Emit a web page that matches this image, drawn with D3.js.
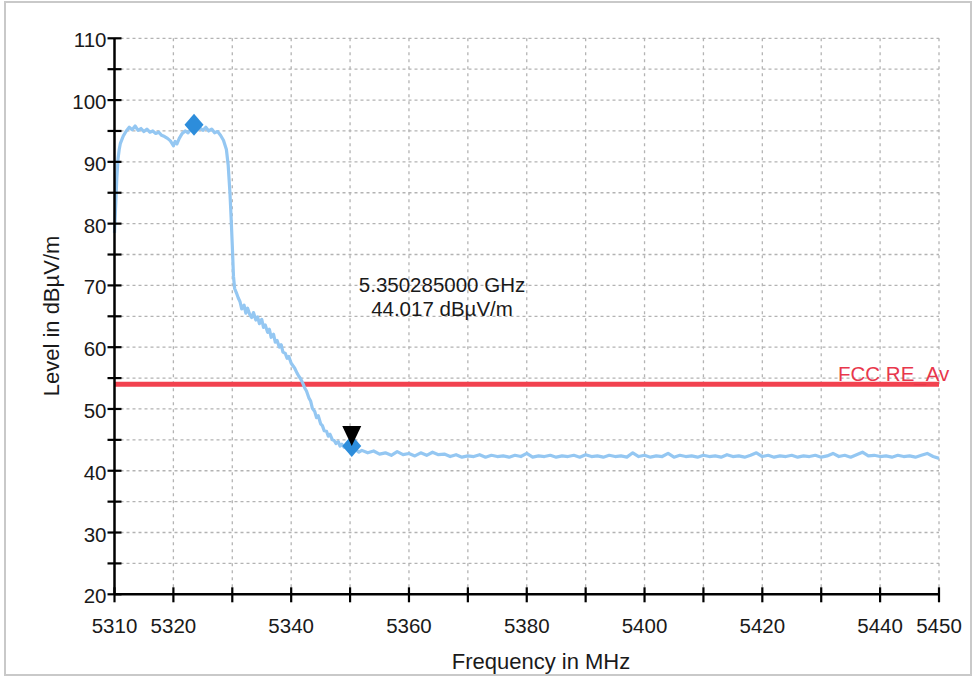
<!doctype html>
<html>
<head>
  <meta charset="utf-8">
  <title>Level vs frequency</title>
  <script src="https://d3js.org/d3.v7.min.js"></script>
  <style>
    body { margin: 0; background: #fff; }
    text { font-family: 'Liberation Sans', Arial, sans-serif; fill: #1a1a1a; }
    .tick-label { font-size: 20.5px; }
    .axis-title { font-size: 22px; }
  </style>
</head>
<body>
<svg id="chart" width="976" height="677"></svg>
<script>
  // x ticks every 10 MHz, only some are labelled
  const xTicks = [5310, 5320, 5330, 5340, 5350, 5360, 5370, 5380, 5390, 5400, 5410, 5420, 5430, 5440, 5450];
  const xTickLabels = [5310, 5320, 5340, 5360, 5380, 5400, 5420, 5440, 5450];
  const yTicks = [20, 25, 30, 35, 40, 45, 50, 55, 60, 65, 70, 75, 80, 85, 90, 95, 100, 105, 110];
  const yTickLabels = [20, 30, 40, 50, 60, 70, 80, 90, 100, 110];

  const limitName = "FCC RE_Av";
  const limitLevel = 54;

  // [MHz, dBµV/m]
  const trace = [
    [5310.0, 78.5], [5310.2, 83.0], [5310.4, 87.5], [5310.6, 90.5], [5310.8, 92.0], [5311.0, 93.0],
    [5311.5, 94.2], [5312.0, 95.0], [5312.5, 95.6], [5313.0, 95.2], [5313.5, 95.8], [5314.0, 95.1],
    [5314.5, 95.4], [5315.0, 94.9], [5315.5, 95.3], [5316.0, 94.8], [5316.5, 95.0], [5317.0, 94.6],
    [5317.5, 94.8], [5318.0, 94.3], [5318.5, 94.1], [5319.0, 93.8], [5319.5, 93.4], [5320.0, 92.6],
    [5320.3, 93.3], [5320.6, 92.9], [5321.0, 93.8], [5321.5, 94.6], [5322.0, 95.0], [5322.5, 94.7],
    [5323.0, 95.3], [5323.5, 95.6], [5324.0, 95.2], [5324.5, 95.5], [5325.0, 95.1], [5325.5, 95.6],
    [5326.0, 95.0], [5326.5, 95.3], [5327.0, 94.7], [5327.5, 94.9], [5328.0, 94.3], [5328.5, 93.5],
    [5329.0, 92.0], [5329.3, 89.5], [5329.6, 85.0], [5329.8, 81.0], [5330.0, 76.5], [5330.2, 71.5],
    [5330.4, 69.5], [5330.7, 68.8], [5331.0, 68.0], [5331.3, 67.4], [5331.6, 66.2], [5332.0, 66.8],
    [5332.3, 65.5], [5332.6, 66.3], [5333.0, 65.2], [5333.3, 64.8], [5333.6, 65.6], [5334.0, 64.4],
    [5334.3, 64.9], [5334.6, 63.8], [5335.0, 64.5], [5335.3, 63.2], [5335.6, 63.6], [5336.0, 62.4],
    [5336.3, 62.9], [5336.6, 61.6], [5337.0, 62.1], [5337.3, 60.8], [5337.6, 61.1], [5338.0, 60.0],
    [5338.3, 60.4], [5338.6, 59.2], [5339.0, 59.0], [5339.3, 58.2], [5339.6, 58.5], [5340.0, 57.4],
    [5340.3, 57.0], [5340.6, 56.6], [5341.0, 55.8], [5341.3, 55.3], [5341.6, 54.9], [5342.0, 54.1],
    [5342.3, 53.4], [5342.6, 52.9], [5343.0, 51.8], [5343.3, 51.3], [5343.6, 50.1], [5344.0, 49.6],
    [5344.3, 48.6], [5344.6, 48.9], [5345.0, 47.6], [5345.3, 47.3], [5345.6, 46.5], [5346.0, 46.4],
    [5346.3, 45.6], [5346.6, 45.9], [5347.0, 45.0], [5347.3, 44.9], [5347.6, 44.4], [5348.0, 44.7],
    [5348.3, 44.0], [5348.6, 44.3], [5349.0, 43.8], [5349.5, 44.1], [5350.0, 43.9], [5350.3, 44.0],
    [5350.6, 43.6], [5351.0, 43.4], [5351.5, 43.0], [5352.0, 43.3],
    [5353, 42.9], [5354, 43.2], [5355, 42.7], [5356, 42.9], [5357, 42.5], [5358, 43.1], [5359, 42.6],
    [5360, 42.8], [5361, 42.4], [5362, 42.9], [5363, 42.5], [5364, 43.0], [5365, 42.6], [5366, 42.7],
    [5367, 42.3], [5368, 42.6], [5369, 42.2], [5370, 42.4], [5371, 42.3], [5372, 42.6], [5373, 42.2],
    [5374, 42.5], [5375, 42.3], [5376, 42.4], [5377, 42.2], [5378, 42.5], [5379, 42.3], [5380, 42.8],
    [5381, 42.2], [5382, 42.4], [5383, 42.3], [5384, 42.5], [5385, 42.2], [5386, 42.4], [5387, 42.3],
    [5388, 42.5], [5389, 42.2], [5390, 42.6], [5391, 42.3], [5392, 42.4], [5393, 42.2], [5394, 42.5],
    [5395, 42.3], [5396, 42.4], [5397, 42.2], [5398, 42.9], [5399, 42.3], [5400, 42.5], [5401, 42.2],
    [5402, 42.4], [5403, 42.3], [5404, 42.8], [5405, 42.2], [5406, 42.5], [5407, 42.3], [5408, 42.4],
    [5409, 42.2], [5410, 42.5], [5411, 42.3], [5412, 42.4], [5413, 42.2], [5414, 42.6], [5415, 42.3],
    [5416, 42.4], [5417, 42.2], [5418, 42.5], [5419, 42.9], [5420, 42.3], [5421, 42.5], [5422, 42.2],
    [5423, 42.4], [5424, 42.3], [5425, 42.5], [5426, 42.2], [5427, 42.4], [5428, 42.3], [5429, 42.5],
    [5430, 42.2], [5431, 42.4], [5432, 42.8], [5433, 42.3], [5434, 42.5], [5435, 42.2], [5436, 42.6],
    [5437, 43.0], [5438, 42.4], [5439, 42.5], [5440, 42.3], [5441, 42.4], [5442, 42.2], [5443, 42.5],
    [5444, 42.3], [5445, 42.4], [5446, 42.2], [5447, 42.5], [5448, 42.8], [5449, 42.3], [5450, 42.0]
  ];

  // markers: peak and the band-edge marker with readout
  const peakMarker = [5323.5, 96.0];
  const edgeMarker = [5350.285, 44.017];
  const readout = ["5.350285000 GHz", "44.017 dBµV/m"];

  const svg = d3.select("#chart");

  var x = d3.scaleLinear().domain([5310, 5450]).range([114.5, 939]);
  var y = d3.scaleLinear().domain([20, 110]).range([594.3, 38.3]);

  // outer frame
  svg.append("rect")
    .attr("x", 5).attr("y", 2).attr("width", 966).attr("height", 673)
    .attr("fill", "none").attr("stroke", "#c9c9c9").attr("stroke-width", 2);

  // grid
  svg.append("g").selectAll("line")
    .data(yTicks.filter(d => d > 20))
    .enter().append("line")
    .attr("x1", x(5310)).attr("x2", x(5450))
    .attr("y1", d => y(d)).attr("y2", d => y(d))
    .attr("stroke", "#b3b3b3").attr("stroke-width", 1.3).attr("stroke-dasharray", "3,3");

  svg.append("g").selectAll("line")
    .data(xTicks.filter(d => d > 5310))
    .enter().append("line")
    .attr("x1", d => x(d)).attr("x2", d => x(d))
    .attr("y1", y(110)).attr("y2", y(20))
    .attr("stroke", "#b3b3b3").attr("stroke-width", 1.3).attr("stroke-dasharray", "3,4");

  // limit line
  svg.append("line")
    .attr("x1", x(5310)).attr("x2", x(5450))
    .attr("y1", y(limitLevel)).attr("y2", y(limitLevel))
    .attr("stroke", "#f2424f").attr("stroke-width", 5);

  svg.append("text")
    .attr("x", 838).attr("y", y(limitLevel) - 3)
    .style("font-size", "20.5px")
    .style("fill", "#e8374c")
    .text(limitName);

  // trace
  var line = d3.line().x(d => x(d[0])).y(d => y(d[1]));
  svg.append("path")
    .datum(trace)
    .attr("d", line)
    .attr("fill", "none")
    .attr("stroke", "#94c7f2")
    .attr("stroke-width", 3.2)
    .attr("stroke-linejoin", "round");

  // axes (ticks cross the axis line)
  var yAxis = svg.append("g");
  yAxis.append("line")
    .attr("x1", x(5310)).attr("x2", x(5310))
    .attr("y1", y(110)).attr("y2", y(20))
    .attr("stroke", "#000").attr("stroke-width", 2.5);
  yAxis.selectAll(".yt").data(yTicks).enter().append("line")
    .attr("x1", x(5310) - 7).attr("x2", x(5310) + 7)
    .attr("y1", d => y(d)).attr("y2", d => y(d))
    .attr("stroke", "#000").attr("stroke-width", 2.2);
  yAxis.selectAll("text").data(yTickLabels).enter().append("text")
    .attr("class", "tick-label")
    .attr("x", x(5310) - 8)
    .attr("y", d => y(d) + 9)
    .attr("text-anchor", "end")
    .text(d => d);

  var xAxis = svg.append("g");
  xAxis.append("line")
    .attr("x1", x(5310)).attr("x2", x(5450))
    .attr("y1", y(20)).attr("y2", y(20))
    .attr("stroke", "#000").attr("stroke-width", 2.5);
  xAxis.selectAll(".xt").data(xTicks).enter().append("line")
    .attr("x1", d => x(d)).attr("x2", d => x(d))
    .attr("y1", y(20) - 7).attr("y2", y(20) + 8)
    .attr("stroke", "#000").attr("stroke-width", 2.2);
  xAxis.selectAll("text").data(xTickLabels).enter().append("text")
    .attr("class", "tick-label")
    .attr("x", d => x(d))
    .attr("y", 633)
    .attr("text-anchor", "middle")
    .text(d => d);

  // axis titles
  svg.append("text")
    .attr("class", "axis-title")
    .attr("x", 541).attr("y", 669)
    .attr("text-anchor", "middle")
    .text("Frequency in MHz");

  svg.append("text")
    .attr("class", "axis-title")
    .attr("transform", "translate(59,316) rotate(-90)")
    .attr("text-anchor", "middle")
    .text("Level in dBµV/m");

  // markers
  function diamond(p) {
    var cx = x(p[0]), cy = y(p[1]);
    return `M${cx},${cy - 11} L${cx + 9.5},${cy} L${cx},${cy + 11} L${cx - 9.5},${cy} Z`;
  }
  svg.selectAll(".marker").data([peakMarker, edgeMarker]).enter().append("path")
    .attr("d", diamond)
    .attr("fill", "#2d8ddb");

  var ex = x(edgeMarker[0]), ey = y(edgeMarker[1]);
  svg.append("path")
    .attr("d", `M${ex - 9.5},${ey - 20} L${ex + 9.5},${ey - 20} L${ex},${ey} Z`)
    .attr("fill", "#000");

  svg.selectAll(".readout").data(readout).enter().append("text")
    .attr("x", 442)
    .attr("y", (d, i) => 292 + i * 24)
    .attr("text-anchor", "middle")
    .style("font-size", "20.5px")
    .text(d => d);
</script>
</body>
</html>
